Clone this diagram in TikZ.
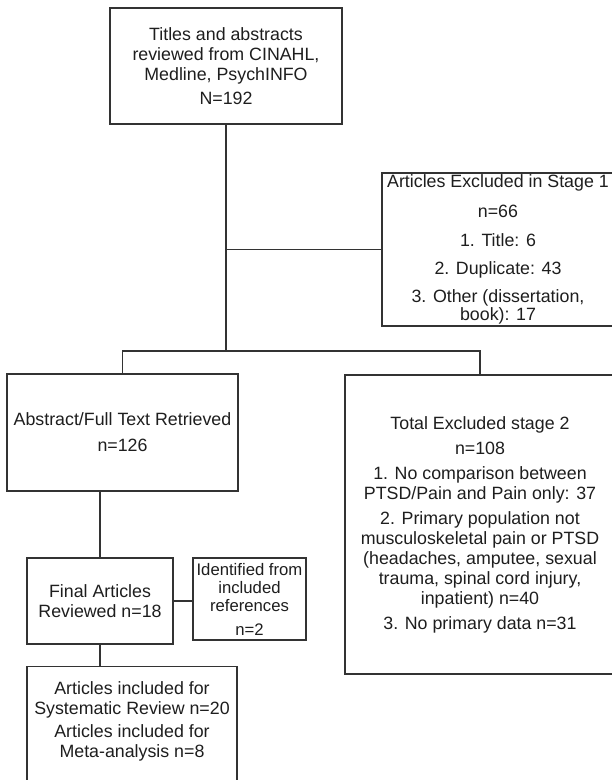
\documentclass[tikz,border=0pt]{standalone}
\usepackage{fontspec}
\setmainfont{Liberation Sans}
\definecolor{linec}{HTML}{333333}
\definecolor{txtc}{HTML}{1E1E1E}
\newcommand\fsmain{\fontsize{17.8pt}{20pt}\selectfont}
\newcommand\fssmall{\fontsize{16.7pt}{18pt}\selectfont}
\tikzset{
  box/.style={draw=linec, line width=1.3pt, rectangle, inner sep=0pt, align=center, font=\fsmain, text=txtc},
  plaintext/.style={inner sep=0pt, align=center, font=\fsmain, text=txtc},
  conn/.style={draw=linec, line width=1.3pt},
}
\begin{document}
\begin{tikzpicture}[x=1pt,y=-1pt]
\useasboundingbox (0,0) rectangle (612,780);
\fill[white] (0,0) rectangle (612,780);

\node[box, minimum width=232pt, minimum height=116pt] (top) at (226,66)
  {Titles and abstracts\\reviewed from CINAHL,\\Medline, PsychINFO\\[4pt]N=192};

\node[box, minimum width=232pt, minimum height=153pt] (ex1) at (498,249.5)
  {Articles Excluded in Stage 1\\[10pt]n=66\\[9pt]1. Title: 6\\[8pt]2. Duplicate: 43\\[8pt]3. Other (dissertation,\\[-2pt]book): 17};

\node[box, minimum width=231pt, minimum height=117pt] (ret) at (122.5,432.5)
  {Abstract/Full Text Retrieved\\[6pt]n=126};

\node[box, minimum width=270pt, minimum height=299pt] (ex2) at (480,524.5)
  {Total Excluded stage 2\\[5pt]n=108\\[5pt]1. No comparison between\\PTSD/Pain and Pain only: 37\\[5pt]2. Primary population not\\musculoskeletal pain or PTSD\\(headaches, amputee, sexual\\trauma, spinal cord injury,\\inpatient) n=40\\[5pt]3. No primary data n=31};

\node[box, minimum width=146pt, minimum height=86pt] (final) at (100,601)
  {Final Articles\\Reviewed n=18};

\node[box, minimum width=113pt, minimum height=82pt, font=\fssmall] (ident) at (249.5,599)
  {Identified from\\included\\references\\[6pt]n=2};

\node[box, minimum width=210pt, minimum height=134pt, anchor=north] (inclbox) at (132,666) {};
\node[plaintext] (incl) at (132,721)
  {Articles included for\\Systematic Review n=20\\[3pt]Articles included for\\Meta-analysis n=8};

\coordinate (j1) at (226,351);
\draw[conn] (top.south) -- (j1);
\draw[conn] (top.south |- ex1.west) -- (ex1.west);
\draw[conn] (ret.north) |- (j1) -| (ex2.north);
\draw[conn] (final.north) -- (final.north |- ret.south);
\draw[conn] (final.east) -- (final.east -| ident.west);
\draw[conn] (final.south) -- (final.south |- inclbox.north);
\end{tikzpicture}
\end{document}
